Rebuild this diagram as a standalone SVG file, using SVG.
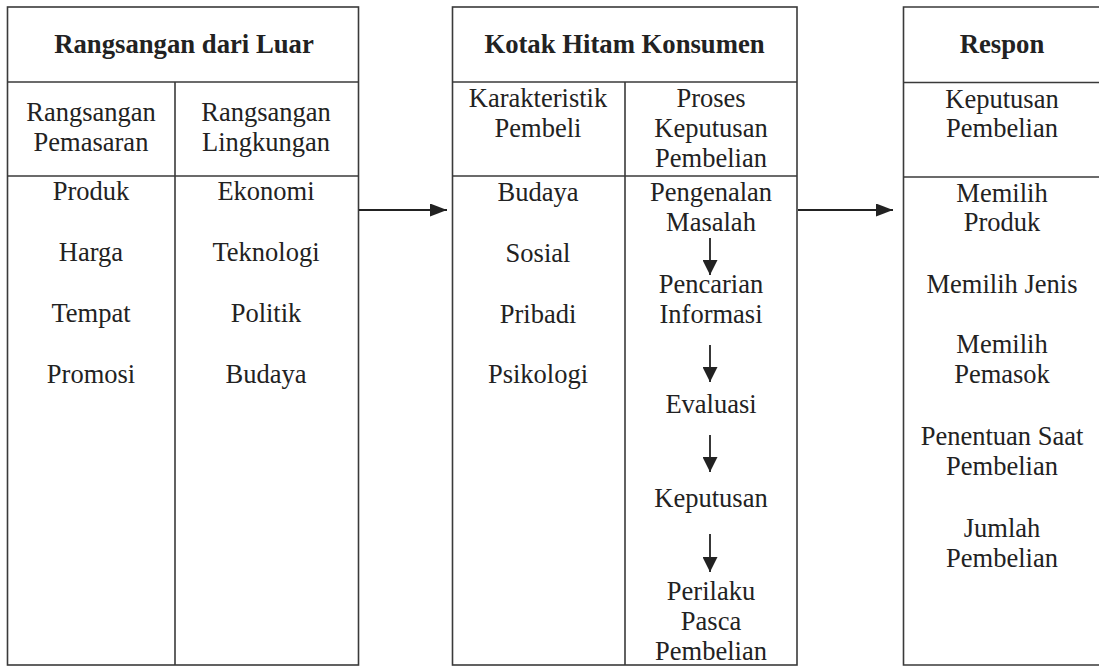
<svg xmlns="http://www.w3.org/2000/svg" width="1099" height="667" viewBox="0 0 1099 667">
<defs>
<style>
.box{fill:#fff;stroke:#3a3a3a;stroke-width:1.6}
.ln{stroke:#3a3a3a;stroke-width:1.6;fill:none}
.t{font-family:"Liberation Serif","Times New Roman",serif;font-size:26.5px;fill:#222;text-anchor:middle}
.h{font-weight:bold;font-size:26.7px}
.cn{stroke:#222;stroke-width:1.8;fill:none}
</style>
<marker id="ah" markerUnits="userSpaceOnUse" viewBox="0 0 17 13" refX="17" refY="6.5" markerWidth="17" markerHeight="13" orient="auto">
<path d="M0,0 L17,6.5 L0,13 z" fill="#222"/>
</marker>
<marker id="av" markerUnits="userSpaceOnUse" viewBox="0 0 15 15" refX="15" refY="7.5" markerWidth="15" markerHeight="15" orient="auto">
<path d="M0,0 L15,7.5 L0,15 z" fill="#222"/>
</marker>
</defs>
<rect width="1099" height="667" fill="#fff"/>

<g id="rangsangan-dari-luar">
<rect class="box" x="7.5" y="7" width="351" height="658"/>
<line class="ln" x1="7.5" y1="82" x2="358.5" y2="82"/>
<line class="ln" x1="7.5" y1="176" x2="358.5" y2="176"/>
<line class="ln" x1="175" y1="82" x2="175" y2="665"/>
<text class="t h" x="184" y="53">Rangsangan dari Luar</text>
<text class="t" x="91" y="121">Rangsangan</text>
<text class="t" x="91" y="151">Pemasaran</text>
<text class="t" x="266" y="121">Rangsangan</text>
<text class="t" x="266" y="151">Lingkungan</text>
<text class="t" x="91" y="200">Produk</text>
<text class="t" x="91" y="261">Harga</text>
<text class="t" x="91" y="322">Tempat</text>
<text class="t" x="91" y="383">Promosi</text>
<text class="t" x="266" y="200">Ekonomi</text>
<text class="t" x="266" y="261">Teknologi</text>
<text class="t" x="266" y="322">Politik</text>
<text class="t" x="266" y="383">Budaya</text>
</g>

<g id="kotak-hitam-konsumen">
<rect class="box" x="452.5" y="7" width="344.5" height="658"/>
<line class="ln" x1="452.5" y1="82" x2="797" y2="82"/>
<line class="ln" x1="452.5" y1="176" x2="797" y2="176"/>
<line class="ln" x1="625" y1="82" x2="625" y2="665"/>
<text class="t h" x="624.5" y="53">Kotak Hitam Konsumen</text>
<text class="t" x="538" y="107">Karakteristik</text>
<text class="t" x="538" y="137">Pembeli</text>
<text class="t" x="711" y="107">Proses</text>
<text class="t" x="711" y="137">Keputusan</text>
<text class="t" x="711" y="167">Pembelian</text>
<text class="t" x="538" y="201">Budaya</text>
<text class="t" x="538" y="262">Sosial</text>
<text class="t" x="538" y="323">Pribadi</text>
<text class="t" x="538" y="383">Psikologi</text>
<text class="t" x="711" y="201">Pengenalan</text>
<text class="t" x="711" y="231">Masalah</text>
<text class="t" x="711" y="293">Pencarian</text>
<text class="t" x="711" y="323">Informasi</text>
<text class="t" x="711" y="413">Evaluasi</text>
<text class="t" x="711" y="507">Keputusan</text>
<text class="t" x="711" y="600">Perilaku</text>
<text class="t" x="711" y="630">Pasca</text>
<text class="t" x="711" y="660">Pembelian</text>
</g>

<g id="respon">
<path class="ln" d="M1101,7 H903.5 V665 H1101"/>
<line class="ln" x1="903.5" y1="82.5" x2="1099" y2="82.5"/>
<line class="ln" x1="903.5" y1="177" x2="1099" y2="177"/>
<text class="t h" x="1002" y="53">Respon</text>
<text class="t" x="1002" y="108">Keputusan</text>
<text class="t" x="1002" y="137">Pembelian</text>
<text class="t" x="1002" y="202">Memilih</text>
<text class="t" x="1002" y="231">Produk</text>
<text class="t" x="1002" y="293">Memilih Jenis</text>
<text class="t" x="1002" y="353">Memilih</text>
<text class="t" x="1002" y="383">Pemasok</text>
<text class="t" x="1002" y="445">Penentuan Saat</text>
<text class="t" x="1002" y="475">Pembelian</text>
<text class="t" x="1002" y="537">Jumlah</text>
<text class="t" x="1002" y="567">Pembelian</text>
</g>

<g id="connectors">
<line class="cn" x1="359" y1="210" x2="447" y2="210" marker-end="url(#ah)"/>
<line class="cn" x1="798" y1="210" x2="893" y2="210" marker-end="url(#ah)"/>
<line class="cn" x1="710" y1="238" x2="710" y2="275" marker-end="url(#av)"/>
<line class="cn" x1="710" y1="345" x2="710" y2="382" marker-end="url(#av)"/>
<line class="cn" x1="710" y1="435" x2="710" y2="472" marker-end="url(#av)"/>
<line class="cn" x1="710" y1="534" x2="710" y2="572" marker-end="url(#av)"/>
</g>
</svg>
